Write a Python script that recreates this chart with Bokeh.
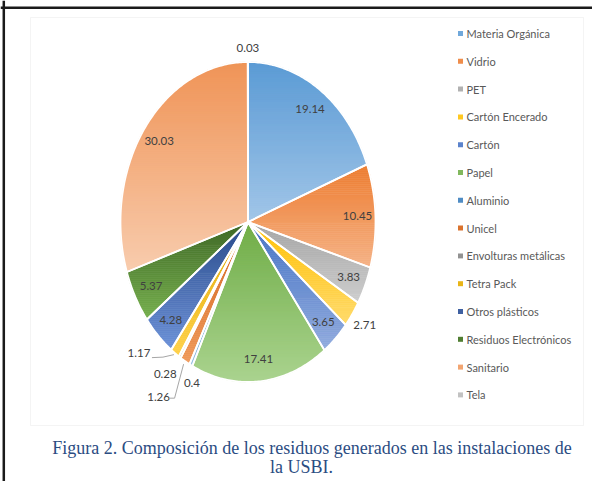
import math
from bokeh.plotting import figure
from bokeh.models import Range1d, ColumnDataSource, Span, BoxAnnotation
from bokeh.core.properties import value
from bokeh.embed import file_html
from bokeh.resources import INLINE

# ---------------- data ----------------
categories = ["Materia Orgánica", "Vidrio", "PET", " Cartón Encerado", "Cartón", "Papel",
              "Aluminio", "Unicel", "Envolturas metálicas", "Tetra Pack", "Otros plásticos",
              "Residuos Electrónicos", "Sanitario", "Tela"]
values = [19.14, 10.45, 3.83, 2.71, 3.65, 17.41, 0.4, 1.26, 0.28, 1.17, 4.28, 5.37, 30.03, 0.03]
value_labels = ["19.14", "10.45", "3.83", "2.71", "3.65", "17.41", "0.4", "1.26", "0.28",
                "1.17", "4.28", "5.37", "30.03", "0.03"]
colors_top = ["#5B9BD5", "#ED7D31", "#A5A5A5", "#FFC000", "#4472C4", "#70AD47",
              "#2E75B6", "#D0621A", "#7B7B7B", "#E0A800", "#2A4B8A", "#3F6826",
              "#EF9457", "#B7B7B7"]
colors_bottom = ["#A2C6E8", "#F5B387", "#CDCDCD", "#FFDB6E", "#92ACDE", "#AAD38F",
                 "#9DC3E6", "#F09A5C", "#C9C9C9", "#FFD24D", "#6C91D8", "#76B04E",
                 "#F8CCAE", "#DBDBDB"]
caption_lines = ["Figura 2. Composición de los residuos generados en las instalaciones de",
                 "la USBI."]

# ---------------- layout (page pixel coordinates) ----------------
W, H = 592, 481
CX, CY, RX, RY = 247.5, 221.5, 127.5, 160.0
FONT = value("Lato")


def hex2rgb(h):
    h = h.lstrip("#")
    return tuple(int(h[i:i + 2], 16) for i in (0, 2, 4))


def mix(c1, c2, t):
    a, b = hex2rgb(c1), hex2rgb(c2)
    return "#%02x%02x%02x" % tuple(int(round(a[i] + (b[i] - a[i]) * t)) for i in range(3))


def pt(theta_deg, f=1.0):
    th = math.radians(theta_deg)
    return CX + RX * f * math.sin(th), CY - RY * f * math.cos(th)


def clip(poly, inside, inter):
    out = []
    n = len(poly)
    for i in range(n):
        cur, prev = poly[i], poly[i - 1]
        if inside(cur):
            if not inside(prev):
                out.append(inter(prev, cur))
            out.append(cur)
        elif inside(prev):
            out.append(inter(prev, cur))
    return out


def yinter(yv):
    def f(p, q):
        t = (yv - p[1]) / (q[1] - p[1])
        return (p[0] + t * (q[0] - p[0]), yv)
    return f


total = sum(values)
angles = []
acc = 0.0
for v in values:
    a0 = acc / total * 360.0
    acc += v
    a1 = acc / total * 360.0
    angles.append((a0, a1))

band_xs, band_ys, band_col = [], [], []
out_xs, out_ys = [], []
for i, (a0, a1) in enumerate(angles):
    n = max(2, int(math.ceil((a1 - a0) / 0.75)))
    poly = [(CX, CY)] + [pt(a0 + (a1 - a0) * k / n) for k in range(n + 1)]
    out_xs.append([p[0] for p in poly])
    out_ys.append([p[1] for p in poly])
    ymin = min(p[1] for p in poly)
    ymax = max(p[1] for p in poly)
    nb = max(2, int(math.ceil((ymax - ymin) / 2.0)))
    for b in range(nb):
        y0 = ymin + (ymax - ymin) * b / nb
        y1 = ymin + (ymax - ymin) * (b + 1) / nb
        part = clip(poly, lambda p, y0=y0: p[1] >= y0, yinter(y0))
        if len(part) < 3:
            continue
        part = clip(part, lambda p, y1=y1: p[1] <= y1, yinter(y1))
        if len(part) < 3:
            continue
        band_xs.append([p[0] for p in part])
        band_ys.append([p[1] for p in part])
        band_col.append(mix(colors_top[i], colors_bottom[i], (b + 0.5) / nb))

p = figure(width=W, height=H, x_range=Range1d(0, W), y_range=Range1d(H, 0),
           output_backend="svg", toolbar_location=None, min_border=0,
           x_axis_location=None, y_axis_location=None, outline_line_color=None,
           background_fill_color="white", border_fill_color="white")
p.grid.visible = False

# frames
p.add_layout(Span(location=7.3, dimension="width", line_color="#1a1a1a", line_width=2.5))
p.add_layout(Span(location=3.3, dimension="height", line_color="#1a1a1a", line_width=2.5))
p.add_layout(BoxAnnotation(left=30, right=583, top=17, bottom=425, fill_alpha=0,
                           line_color="#D9D9D9", line_width=1))

# pie slices with vertical gradient
p.patches(xs="xs", ys="ys", fill_color="c", line_color="c", line_width=0.7,
          source=ColumnDataSource(dict(xs=band_xs, ys=band_ys, c=band_col)))
p.patches(xs=out_xs, ys=out_ys, fill_alpha=0, line_color="white", line_width=1.8,
          line_join="round")

# data labels
radial = [0.86] * len(values)
radial[3] = 1.12
radial[13] = 1.085
offsets = {6: (1, 18), 7: (-26.5, 35.5), 8: (-14.5, 17), 9: (-36, -0.5)}
lx, ly = [], []
edges = {}
for i, (a0, a1) in enumerate(angles):
    mid = (a0 + a1) / 2
    if i in offsets:
        ex, ey = pt(mid, 1.0)
        edges[i] = (ex, ey)
        lx.append(ex + offsets[i][0])
        ly.append(ey + offsets[i][1])
    else:
        x, y = pt(mid, radial[i])
        lx.append(x)
        ly.append(y)
p.text(x=lx, y=ly, text=value_labels, text_font=FONT, text_font_size="11.5px",
       text_color="#404040", text_align="center", text_baseline="middle")

# leader lines (Tetra Pack, Unicel)
ex, ey = edges[9]
p.line(x=[lx[9] + 13, lx[9] + 24, ex - 1], y=[ly[9] + 5, ly[9] + 4.5, ey + 1.5],
       line_color="#A6A6A6", line_width=1)
ex, ey = edges[7]
p.line(x=[lx[7] + 11, lx[7] + 16, ex - 1.5], y=[ly[7] + 1.5, ly[7] + 1.5, ey + 3],
       line_color="#A6A6A6", line_width=1)

# legend
leg_y = [33 + 27.8 * k for k in range(len(categories))]
leg_c = [mix(colors_top[i], colors_bottom[i], 0.3) for i in range(len(categories))]
p.scatter(x=[460] * len(categories), y=leg_y, marker="square", size=5,
          fill_color=leg_c, line_color=None)
p.text(x=[466] * len(categories), y=leg_y, text=categories, text_font=FONT,
       text_font_size="11px", text_color="#595959", text_align="left",
       text_baseline="middle")

# caption
p.text(x=[311.5, 301], y=[447.5, 466.5], text=caption_lines,
       text_font=value("Liberation Serif"), text_font_size="18px",
       text_color="#2B4C82", text_align="center", text_baseline="alphabetic")

open("out.html", "w").write(file_html(p, INLINE))
